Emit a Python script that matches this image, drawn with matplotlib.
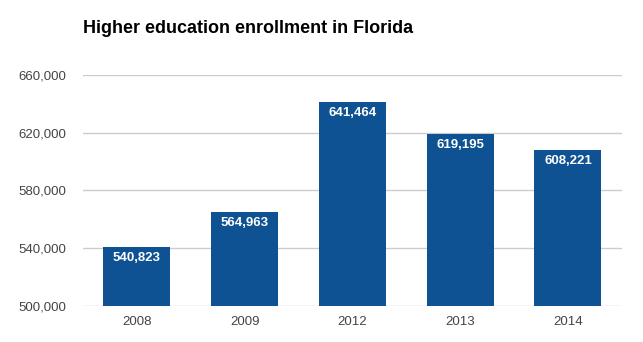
import matplotlib.pyplot as plt
from matplotlib.ticker import FuncFormatter

plt.rcParams['font.family'] = ['Liberation Sans', 'DejaVu Sans']

# datos
years = ['2008', '2009', '2012', '2013', '2014']
enrollment = [540823, 564963, 641464, 619195, 608221]
y_ticks = [500000, 540000, 580000, 620000, 660000]

fig = plt.figure(figsize=(6.43, 3.42), dpi=100)
ax = fig.add_axes([0.129, 0.105, 0.838, 0.676])

x = range(len(years))
bars = ax.bar(x, enrollment, width=0.62, color='#0e5293', zorder=3)

# etiquetas dentro de las barras
for xi, v in zip(x, enrollment):
    ax.annotate(f'{v:,}', (xi, v), xytext=(0, -3.5), textcoords='offset points',
                ha='center', va='top', color='white', fontsize=9.5, fontweight='bold', zorder=4)

ax.set_xlim(-0.5, len(years) - 0.5)
ax.set_ylim(500000, 660000)
ax.set_yticks(y_ticks)
ax.yaxis.set_major_formatter(FuncFormatter(lambda v, p: f'{int(v):,}'))
ax.set_xticks(list(x))
ax.set_xticklabels(years)
ax.tick_params(length=0, labelsize=9.5, labelcolor='#444444')
ax.tick_params(axis='y', pad=12)
ax.tick_params(axis='x', pad=7)
ax.grid(axis='y', color='#cccccc', linewidth=1, zorder=0)
for s in ax.spines.values():
    s.set_visible(False)

fig.text(0.129, 0.918, 'Higher education enrollment in Florida', fontsize=13,
         fontweight='bold', ha='left', va='center')

fig.savefig('out.png', dpi=100)
